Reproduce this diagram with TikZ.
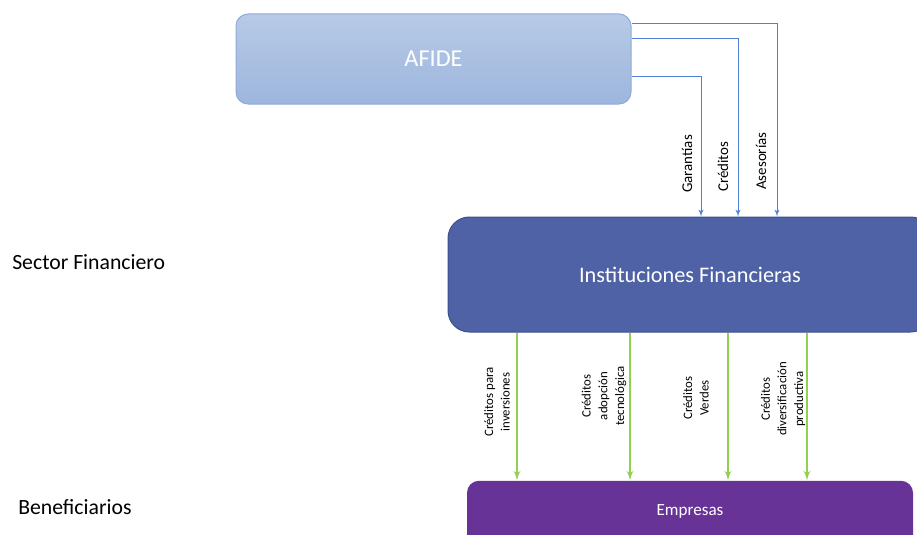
\documentclass[tikz,border=0pt]{standalone}
\usepackage{fontspec}
\setmainfont{Carlito}
\usetikzlibrary{arrows}
\usetikzlibrary{positioning, calc}
\definecolor{afidetop}{RGB}{184,202,230}
\definecolor{afidebottom}{RGB}{157,182,221}
\definecolor{afideline}{RGB}{143,170,219}
\definecolor{instfill}{RGB}{78,98,165}
\definecolor{instline}{RGB}{62,80,140}
\definecolor{empfill}{RGB}{103,51,151}
\definecolor{flechaazul}{RGB}{79,129,214}
\definecolor{flechaverde}{RGB}{146,208,80}
\tikzset{
    caja/.style = {inner sep=0pt, text centered, text=white},
    afide_box/.style = {caja, rounded corners=9pt, draw=afideline, line width=0.75pt,
        top color=afidetop, bottom color=afidebottom,
        minimum width=296.25pt, minimum height=67.5pt, font=\fontsize{18.2pt}{22pt}\selectfont},
    inst_box/.style = {caja, rounded corners=16pt, draw=instline, line width=0.75pt, fill=instfill,
        minimum width=363pt, minimum height=86.25pt, font=\fontsize{16.7pt}{20pt}\selectfont},
    emp_box/.style = {caja, rounded corners=9pt, fill=empfill, text height=9pt, text depth=10pt,
        minimum width=334.5pt, minimum height=52.5pt, font=\fontsize{12.8pt}{15pt}\selectfont},
    sector/.style = {anchor=west, inner sep=0pt, font=\fontsize{16.3pt}{19pt}\selectfont},
    lbl_azul/.style = {rotate=90, anchor=west, inner sep=0pt, font=\fontsize{11.2pt}{13pt}\selectfont},
    lbl_verde/.style = {rotate=90, align=center, inner sep=0pt, font=\fontsize{9.6pt}{12.5pt}\selectfont},
    azul/.style = {->, draw=flechaazul, line width=0.75pt},
    verde/.style = {->, draw=flechaverde, line width=1.5pt},
}

\begin{document}
\begin{tikzpicture}[>=latex', x=0.75pt, y=-0.75pt]
        \useasboundingbox (0,0) rectangle (917,535);
        \clip (0,0) rectangle (917,535);
        \node [afide_box] (afide) at (433.5,59) {AFIDE};
        \node [inst_box] (inst) at (690,274.5) {Instituciones Financieras};
        \node [emp_box, below=111pt of inst] (emp) {Empresas};
        \node [sector] (sector) at (12,262) {Sector Financiero};
        \node [sector] (benef) at (18,507) {Beneficiarios};

        \draw [azul] ($(afide.east)+(0,18)$) -| ($(inst.north)+(11,0)$);
        \draw [azul] ($(afide.east)+(0,-20)$) -| ($(inst.north)+(48,0)$);
        \draw [azul] ($(afide.east)+(0,-35)$) -| ($(inst.north)+(87,0)$);
        \node [lbl_azul] (garantias) at (687,193) {Garantías};
        \node [lbl_azul] (creditos) at (723,192) {Créditos};
        \node [lbl_azul] (asesorias) at (761,190) {Asesorías};

        \coordinate (v1) at ($(inst.south)+(-173,0)$);
        \coordinate (v2) at ($(inst.south)+(-60,0)$);
        \coordinate (v3) at ($(inst.south)+(38,0)$);
        \coordinate (v4) at ($(inst.south)+(117,0)$);
        \foreach \v in {v1,v2,v3,v4}
            \draw [verde] (\v) -- (\v |- emp.north);
        \node [lbl_verde] (inversiones) at (497,402) {Créditos para\\inversiones};
        \node [lbl_verde] (adopcion) at (604,396) {Créditos\\adopción\\tecnológica};
        \node [lbl_verde] (verdes) at (696,398) {Créditos\\Verdes};
        \node [lbl_verde] (diversif) at (783,399) {Créditos\\diversificación\\productiva};
        \end{tikzpicture}
\end{document}
